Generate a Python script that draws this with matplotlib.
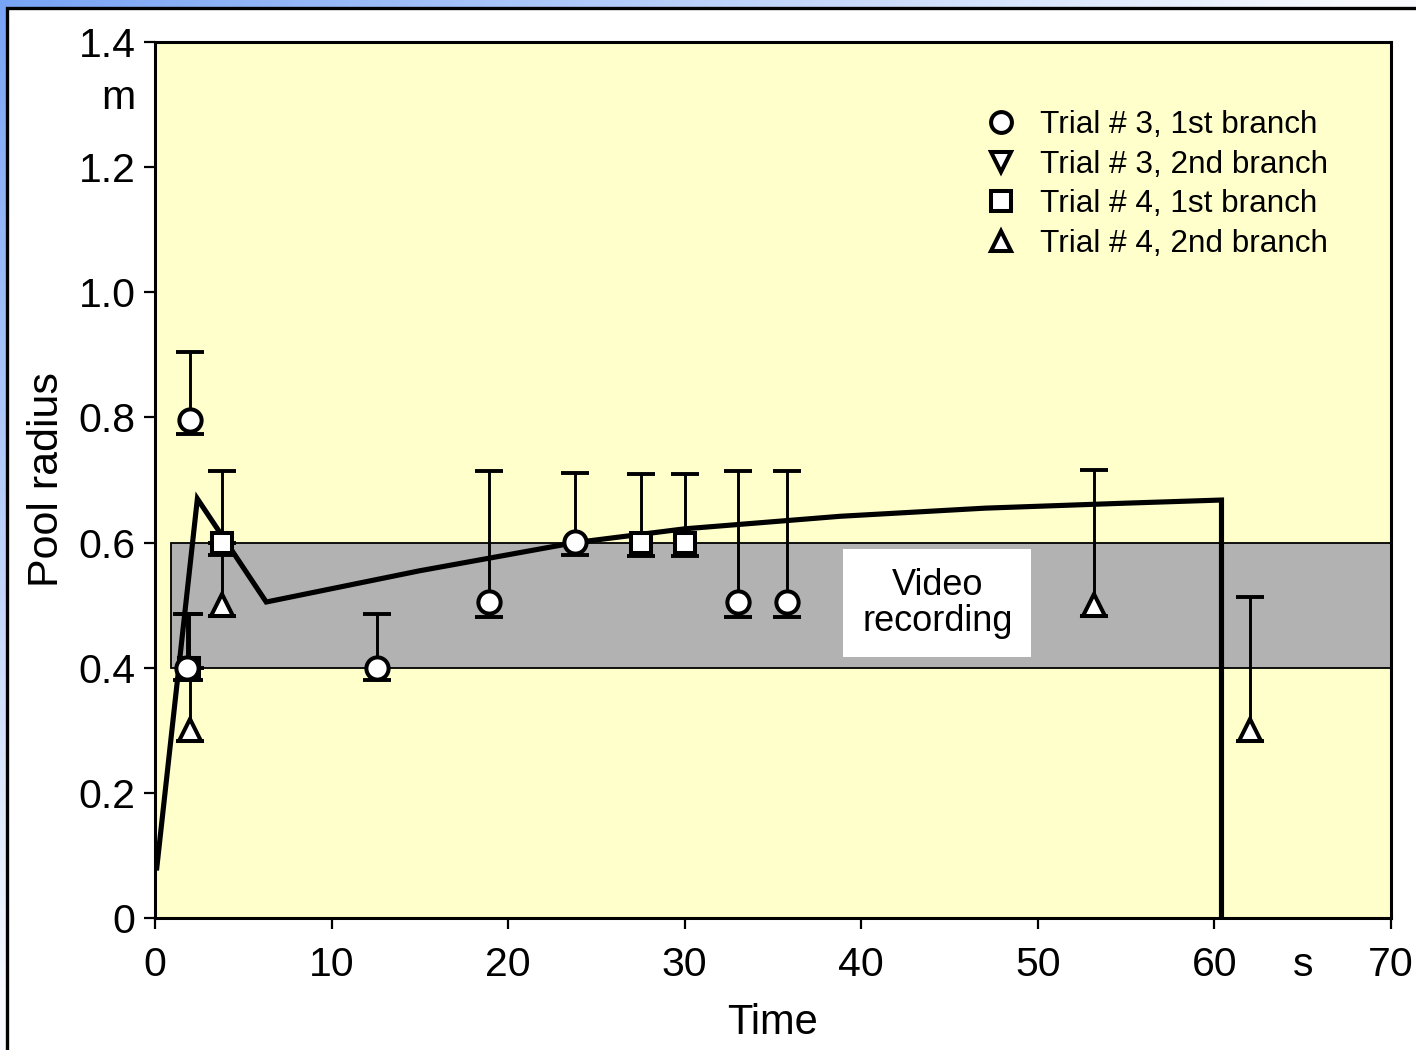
import numpy as np
import matplotlib
matplotlib.use("Agg")
import matplotlib.pyplot as plt
from matplotlib.lines import Line2D
from matplotlib.patches import Rectangle

plt.rcParams['font.family'] = ['Liberation Sans', 'DejaVu Sans']

# Trial #3, 1st branch (circles): time, radius, lower/upper bounds
t3a_time = [2.0, 1.8, 12.6, 18.9, 23.8, 33.0, 35.8]
t3a_rad = [0.796, 0.40, 0.40, 0.505, 0.601, 0.505, 0.505]
t3a_lo = [0.774, 0.380, 0.380, 0.481, 0.580, 0.481, 0.481]
t3a_hi = [0.905, 0.486, 0.486, 0.714, 0.711, 0.714, 0.714]

# Trial #4, 1st branch (squares)
t4a_time = [1.9, 3.8, 27.5, 30.0]
t4a_rad = [0.40, 0.60, 0.60, 0.60]
t4a_lo = [0.380, 0.580, 0.578, 0.578]
t4a_hi = [0.486, 0.714, 0.710, 0.710]

# Trial #4, 2nd branch (up triangles)
t4b_time = [2.0, 3.8, 53.2, 62.0]
t4b_rad = [0.30, 0.50, 0.50, 0.30]
t4b_lo = [0.283, 0.483, 0.483, 0.283]
t4b_hi = [0.40, 0.60, 0.716, 0.513]

# Model curve of the pool radius
model_time = [0.1, 2.4, 6.3, 15.0, 23.8, 30.0, 38.8, 47.0, 55.0, 60.4, 60.4]
model_rad = [0.08, 0.67, 0.505, 0.555, 0.600, 0.622, 0.642, 0.655, 0.663, 0.668, 0.0]

# Video recording band
band_t = [0.9, 70.0]
band_r = [0.40, 0.60]

legend_labels = ["Trial # 3, 1st branch", "Trial # 3, 2nd branch",
                 "Trial # 4, 1st branch", "Trial # 4, 2nd branch"]

x_ticks = [0, 10, 20, 30, 40, 50, 60, 70]
y_ticks = [0, 0.2, 0.4, 0.6, 0.8, 1.0, 1.2, 1.4]
y_ticklabels = ["0", "0.2", "0.4", "0.6", "0.8", "1.0", "1.2", "1.4"]

W, H = 1416, 1050
fig = plt.figure(figsize=(W / 100, H / 100), dpi=100)

# slide-style backdrop: blue gradient from the top-left corner
bg = fig.add_axes([0, 0, 1, 1])
bg.set_axis_off()
yy, xx = np.mgrid[0:H, 0:W]
tt = np.clip(xx / W * 1.05 + yy / H * 1.05, 0, 1)[..., None]
blue = np.array([0.47, 0.64, 0.96])
white = np.array([0.97, 0.98, 1.0])
bg.imshow(blue * (1 - tt) + white * tt, aspect='auto', extent=[0, 1, 0, 1])
bg.set_xlim(0, 1)
bg.set_ylim(0, 1)
bg.add_patch(Rectangle((7 / W, -0.1), 1.2, 1 - 8 / H + 0.1,
                       transform=fig.transFigure, facecolor='white',
                       edgecolor='black', linewidth=2.4, zorder=3))

ax = fig.add_axes([155 / W, 1 - 918 / H, (1391 - 155) / W, (918 - 42) / H])
ax.set_facecolor('#ffffcc')
ax.set_xlim(0, 70)
ax.set_ylim(0, 1.4)

ax.add_patch(Rectangle((band_t[0], band_r[0]), band_t[1] - band_t[0],
                       band_r[1] - band_r[0], facecolor='#b2b2b2',
                       edgecolor='black', linewidth=1.3, zorder=1))

ax.text(44.3, 0.503, "Video\nrecording", ha='center', va='center',
        fontsize=26, linespacing=1.02, zorder=2,
        bbox=dict(boxstyle='square,pad=0.52', facecolor='white', edgecolor='none'))

ax.plot(model_time, model_rad, color='black', lw=3.7, zorder=3,
        solid_joinstyle='miter')

MEW = 2.9


def series(t, r, lo, hi, marker, ms, z):
    r = np.asarray(r)
    yerr = [r - np.asarray(lo), np.asarray(hi) - r]
    ax.errorbar(t, r, yerr=yerr, fmt='none', ecolor='black', elinewidth=2.1,
                capsize=10, capthick=2.8, zorder=4)
    ax.plot(t, r, linestyle='none', marker=marker, ms=ms, mfc='white',
            mec='black', mew=MEW, zorder=z)


series(t4a_time, t4a_rad, t4a_lo, t4a_hi, 's', 14.5, 5)
series(t4b_time, t4b_rad, t4b_lo, t4b_hi, '^', 16, 5)
series(t3a_time, t3a_rad, t3a_lo, t3a_hi, 'o', 16, 6)

handles = [
    Line2D([], [], ls='none', marker='o', ms=15, mfc='white', mec='black', mew=MEW),
    Line2D([], [], ls='none', marker='v', ms=15, mfc='white', mec='black', mew=MEW),
    Line2D([], [], ls='none', marker='s', ms=14, mfc='white', mec='black', mew=MEW),
    Line2D([], [], ls='none', marker='^', ms=15, mfc='white', mec='black', mew=MEW),
]
ax.legend(handles, legend_labels, loc='upper left', bbox_to_anchor=(0.672, 0.922),
          frameon=False, fontsize=22.7, handlelength=1.0, handletextpad=0.72,
          labelspacing=0.3, borderpad=0, borderaxespad=0)

for s in ax.spines.values():
    s.set_linewidth(2.2)
ax.set_xticks(x_ticks)
ax.set_yticks(y_ticks)
ax.set_yticklabels(y_ticklabels)
ax.tick_params(direction='out', length=8, width=1.6, labelsize=29.5, pad=6)
ax.tick_params(axis='x', pad=12)

# unit labels next to the tick labels
ax.annotate("m", xy=(0, 1.31), xycoords=('axes fraction', 'data'),
            xytext=(-14, 0), textcoords='offset points', ha='right', va='center',
            fontsize=29.5)
ax.annotate("s", xy=(65, 0), xycoords=('data', 'axes fraction'),
            xytext=(0, -20), textcoords='offset points', ha='center', va='top',
            fontsize=29.5)

ax.set_xlabel("Time", fontsize=30, labelpad=14)
ax.set_ylabel("Pool radius", fontsize=31, labelpad=8)

fig.savefig("out.png", dpi=100)
